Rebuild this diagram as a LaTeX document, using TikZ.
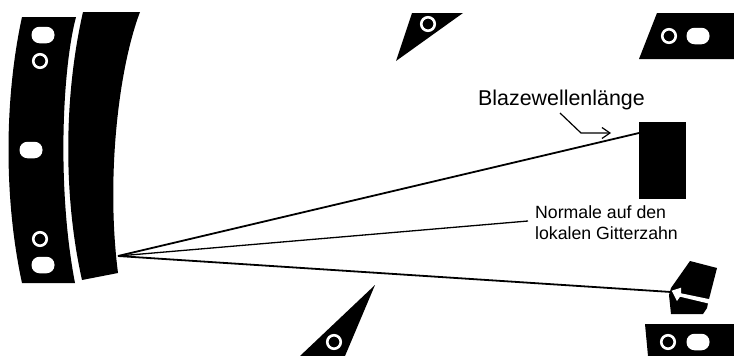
\documentclass[tikz,border=0pt]{standalone}
\usepackage{fontspec}
\setmainfont{Liberation Sans}
\usetikzlibrary{arrows.meta, positioning, calc}

\begin{document}
\begin{tikzpicture}[x=1pt,y=-1pt,
    part/.style={fill=black,draw=none},
    ring/.style={draw=white,fill=black,shape=circle,line width=2.6pt,minimum size=13.5pt,inner sep=0pt},
    slot/.style={fill=white,shape=rectangle,rounded corners=8pt,minimum width=23pt,minimum height=16.5pt,inner sep=0pt},
    ray/.style={draw=black,line width=1.8pt},
    pointer/.style={draw=black,line width=1.2pt,-{Straight Barb[length=8pt,width=11pt]}},
    caption/.style={inner sep=0pt,align=left,text=black}]
    \useasboundingbox (0,0) rectangle (734,356);
    \path[part] (22,17) -- (76,17) .. controls (62,70) and (57,190) .. (75,283) -- (22,283) .. controls (4,200) and (4,100) .. (22,17) -- cycle;
    \path[part] (83,12) -- (140,12) .. controls (118,70) and (106,180) .. (118,273) -- (82,280) .. controls (64,200) and (63,100) .. (83,12) -- cycle;
    \path[part] (412,13) -- (463,13) -- (396,61) -- cycle;
    \path[part] (657,13) -- (734,13) -- (734,59) -- (639,59) -- cycle;
    \path[part] (375,285) -- (345,356) -- (300,356) -- cycle;
    \path[part] (645,324) -- (734,324) -- (734,356) -- (648,356) -- cycle;
    \path[part] (690,261) -- (717,268) -- (708,303) -- (707,308) -- (703,314) -- (671,314) -- (669,295) -- (671,288) -- cycle;
    \path[fill=white] (671.7,290.7) -- (681,287.7) -- (681,293.3) -- (710,299.3) -- (708.5,303.5) -- (680,296.7) -- (677,301) -- cycle;
    \node (slotA) [slot] at (43,35) {};
    \node (ringA) [ring] at (40,61) {};
    \node (slotB) [slot] at (31,150) {};
    \node (ringB) [ring] at (40,239) {};
    \node (slotC) [slot] at (43,265) {};
    \node (ringC) [ring] at (428,24) {};
    \node (ringD) [ring] at (669,36) {};
    \node (slotD) [slot] at (698,36) {};
    \node (ringE) [ring] at (334,342) {};
    \node (ringF) [ring] at (668,342) {};
    \node (slotE) [slot] at (698,342) {};
    \node (blaze) [part,minimum width=47pt,minimum height=77pt,inner sep=0pt] at (662.5,160.5) {};
    \node (title) [caption,font=\fontsize{21.4}{25}\selectfont,anchor=base west] at (478,105) {Blazewellenlänge};
    \node (norm) [caption,font=\fontsize{17.7}{21}\selectfont,anchor=west] at (535,223) {Normale auf den\\lokalen Gitterzahn};
    \coordinate (focus) at (118,256);
    \coordinate (hit) at (639,133);
    \coordinate (det) at (671,292);
    \coordinate (normEnd) at (528,221);
    \coordinate (start) at (560,113);
    \coordinate (knee) at (581,133);
    \coordinate (stop) at (611,133);
    \draw[ray] (focus) -- (hit);
    \draw[ray,line width=1.3pt] (focus) -- (normEnd);
    \draw[ray] (focus) -- (det);
    \draw[pointer] (start) -- (knee) -- (stop);
\end{tikzpicture}
\end{document}
